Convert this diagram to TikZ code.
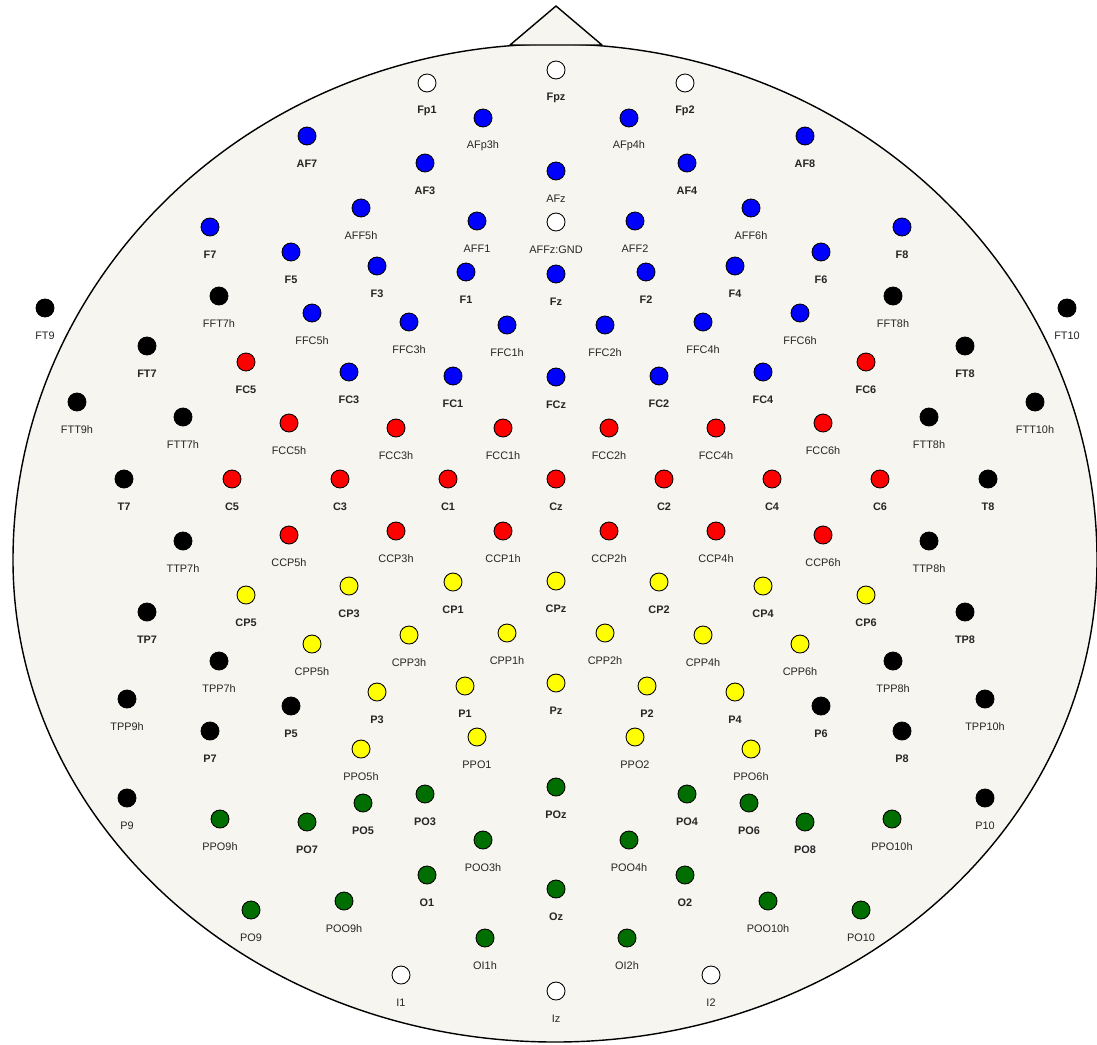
\documentclass[tikz,border=0pt]{standalone}
\usepackage{fontspec}
\setmainfont{Liberation Sans}
\usepackage{tikz}
\definecolor{headbg}{HTML}{F6F5EF}
\definecolor{eblue}{HTML}{0000FF}
\definecolor{ered}{HTML}{FF0000}
\definecolor{eyellow}{HTML}{FFFF00}
\definecolor{egreen}{HTML}{006E00}
\newcommand{\lblfont}{\fontsize{6.2}{7}\selectfont}

\begin{document}
\begin{tikzpicture}[x=0.02cm, y=-0.02cm,
  head/.style={draw=black, line width=0.8pt, fill=headbg, line join=round},
  elec/.style={circle, draw=black, line width=0.5pt, minimum size=0.36cm, inner sep=0pt},
  lbl/.style={inner sep=0pt, text=black!85}
]
  \fill[white] (0,0) rectangle (1097,1044);
  \useasboundingbox (0,0) rectangle (1097,1044);

  % head outline and nose
  \draw[head] (555,44) .. controls (255,44) and (13,274) .. (13,560)
    .. controls (13,826) and (255,1042) .. (555,1042)
    .. controls (855,1042) and (1097,826) .. (1097,560)
    .. controls (1097,274) and (855,44) .. (555,44) -- cycle;
  \draw[head] (510,45) -- (556,6) -- (602,45) -- cycle;

  % electrodes: name/x/y/colour/weight
  \foreach \n/\x/\y/\c/\f in {
    Fp1/427/83/white/\bfseries, Fpz/556/70/white/\bfseries, Fp2/685/83/white/\bfseries,
    I1/401/975/white/\mdseries, Iz/556/991/white/\mdseries, I2/711/975/white/\mdseries,
    AFp3h/483/118/eblue/\mdseries, AFp4h/629/118/eblue/\mdseries,
    AF7/307/136/eblue/\bfseries, AF8/805/136/eblue/\bfseries,
    AF3/425/163/eblue/\bfseries, AF4/687/163/eblue/\bfseries, AFz/556/171/eblue/\mdseries,
    AFF5h/361/208/eblue/\mdseries, AFF6h/751/208/eblue/\mdseries,
    AFF1/477/221/eblue/\mdseries, AFF2/635/221/eblue/\mdseries,
    F7/210/227/eblue/\bfseries, F8/902/227/eblue/\bfseries,
    F5/291/252/eblue/\bfseries, F6/821/252/eblue/\bfseries,
    F3/377/266/eblue/\bfseries, F4/735/266/eblue/\bfseries,
    F1/466/272/eblue/\bfseries, F2/646/272/eblue/\bfseries, Fz/556/274/eblue/\bfseries,
    FFC5h/312/313/eblue/\mdseries, FFC6h/800/313/eblue/\mdseries,
    FFC3h/409/322/eblue/\mdseries, FFC4h/703/322/eblue/\mdseries,
    FFC1h/507/325/eblue/\mdseries, FFC2h/605/325/eblue/\mdseries,
    FC3/349/372/eblue/\bfseries, FC4/763/372/eblue/\bfseries,
    FC1/453/376/eblue/\bfseries, FC2/659/376/eblue/\bfseries, FCz/556/377/eblue/\bfseries,
    FT9/45/308/black/\mdseries, FT10/1067/308/black/\mdseries,
    FFT7h/219/296/black/\mdseries, FFT8h/893/296/black/\mdseries,
    FT7/147/346/black/\bfseries, FT8/965/346/black/\bfseries,
    FTT9h/77/402/black/\mdseries, FTT10h/1035/402/black/\mdseries,
    FTT7h/183/417/black/\mdseries, FTT8h/929/417/black/\mdseries,
    T7/124/479/black/\bfseries, T8/988/479/black/\bfseries,
    TTP7h/183/541/black/\mdseries, TTP8h/929/541/black/\mdseries,
    TP7/147/612/black/\bfseries, TP8/965/612/black/\bfseries,
    TPP7h/219/661/black/\mdseries, TPP8h/893/661/black/\mdseries,
    TPP9h/127/699/black/\mdseries, TPP10h/985/699/black/\mdseries,
    P5/291/706/black/\bfseries, P6/821/706/black/\bfseries,
    P7/210/731/black/\bfseries, P8/902/731/black/\bfseries,
    P9/127/798/black/\mdseries, P10/985/798/black/\mdseries,
    FC5/246/362/ered/\bfseries, FC6/866/362/ered/\bfseries,
    FCC5h/289/423/ered/\mdseries, FCC6h/823/423/ered/\mdseries,
    FCC3h/396/428/ered/\mdseries, FCC4h/716/428/ered/\mdseries,
    FCC1h/503/428/ered/\mdseries, FCC2h/609/428/ered/\mdseries,
    C5/232/479/ered/\bfseries, C6/880/479/ered/\bfseries,
    C3/340/479/ered/\bfseries, C4/772/479/ered/\bfseries,
    C1/448/479/ered/\bfseries, C2/664/479/ered/\bfseries, Cz/556/479/ered/\bfseries,
    CCP5h/289/535/ered/\mdseries, CCP6h/823/535/ered/\mdseries,
    CCP3h/396/531/ered/\mdseries, CCP4h/716/531/ered/\mdseries,
    CCP1h/503/531/ered/\mdseries, CCP2h/609/531/ered/\mdseries,
    CP5/246/595/eyellow/\bfseries, CP6/866/595/eyellow/\bfseries,
    CP3/349/586/eyellow/\bfseries, CP4/763/586/eyellow/\bfseries,
    CP1/453/582/eyellow/\bfseries, CP2/659/582/eyellow/\bfseries, CPz/556/581/eyellow/\bfseries,
    CPP5h/312/644/eyellow/\mdseries, CPP6h/800/644/eyellow/\mdseries,
    CPP3h/409/635/eyellow/\mdseries, CPP4h/703/635/eyellow/\mdseries,
    CPP1h/507/633/eyellow/\mdseries, CPP2h/605/633/eyellow/\mdseries,
    P3/377/692/eyellow/\bfseries, P4/735/692/eyellow/\bfseries,
    P1/465/686/eyellow/\bfseries, P2/647/686/eyellow/\bfseries, Pz/556/683/eyellow/\bfseries,
    PPO5h/361/749/eyellow/\mdseries, PPO6h/751/749/eyellow/\mdseries,
    PPO1/477/737/eyellow/\mdseries, PPO2/635/737/eyellow/\mdseries,
    PO5/363/803/egreen/\bfseries, PO6/749/803/egreen/\bfseries,
    PO7/307/822/egreen/\bfseries, PO8/805/822/egreen/\bfseries,
    PO3/425/794/egreen/\bfseries, PO4/687/794/egreen/\bfseries, POz/556/787/egreen/\bfseries,
    PPO9h/220/819/egreen/\mdseries, PPO10h/892/819/egreen/\mdseries,
    POO3h/483/840/egreen/\mdseries, POO4h/629/840/egreen/\mdseries,
    O1/427/875/egreen/\bfseries, O2/685/875/egreen/\bfseries, Oz/556/889/egreen/\bfseries,
    POO9h/344/901/egreen/\mdseries, POO10h/768/901/egreen/\mdseries,
    PO9/251/910/egreen/\mdseries, PO10/861/910/egreen/\mdseries,
    OI1h/485/938/egreen/\mdseries, OI2h/627/938/egreen/\mdseries}
  {
    \node[elec, fill=\c] (\n) at (\x,\y) {};
    \node[lbl, font=\lblfont\f] (\n-t) at (\x,\y+28) {\n};
  }

  % ground electrode
  \node[elec, fill=white] (gnd) at (556,222) {};
  \node[lbl, font=\lblfont] (gnd-t) at (556,250) {AFFz:GND};
\end{tikzpicture}
\end{document}
